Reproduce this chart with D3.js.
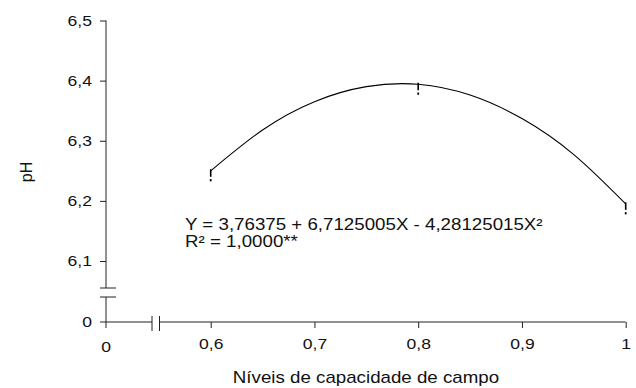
<!DOCTYPE html>
<html>
<head>
<meta charset="utf-8">
<script src="https://cdn.jsdelivr.net/npm/d3@7"></script>
<style>
  body { margin: 0; background: #fff; }
  svg text { font-family: "Liberation Sans", Arial, sans-serif; fill: #111; }
</style>
</head>
<body>
<div id="chart"></div>
<script>
// observed means at each field capacity level
const levels = [0.6, 0.8, 1.0];
const phMeans = [6.25, 6.394, 6.195];

// fitted curve
const curveX = [0.60, 0.65, 0.70, 0.75, 0.80, 0.85, 0.90, 0.95, 1.00];
const curveY = [6.250, 6.318, 6.365, 6.390, 6.394, 6.376, 6.337, 6.277, 6.195];

const xTicks = [0.6, 0.7, 0.8, 0.9, 1.0];
const yTicks = [6.1, 6.2, 6.3, 6.4, 6.5];

const equationText = "Y = 3,76375 + 6,7125005X - 4,28125015X²";
const r2Text = "R² = 1,0000**";

const fmt = d => d3.format(".1f")(d).replace(".", ",").replace(/,0$/, "");

function drawChart() {
    const width = 636, height = 388;
    const sx = 1.17; // glyphs in the source are a bit wide

    const svg = d3.select("#chart")
        .append("svg")
        .attr("width", width)
        .attr("height", height);

    const x = d3.scaleLinear().domain([0.6, 1.0]).range([210.7, 625.7]);
    const y = d3.scaleLinear().domain([6.1, 6.5]).range([261, 20.5]);
    const x0 = 106, y0 = 322;

    const ink = "#222";

    // y axis (upper part)
    const yAxis = svg.append("g")
        .attr("transform", `translate(${x0},0)`)
        .call(d3.axisLeft(y).tickValues(yTicks).tickSize(6).tickPadding(8).tickFormat(fmt));
    yAxis.select(".domain").remove();
    yAxis.selectAll("line").attr("stroke", ink);
    yAxis.selectAll("text")
        .style("font-size", "15px")
        .attr("transform", `scale(${sx},1)`)
        .attr("x", -14 / sx);

    // x axis (right part)
    const xAxis = svg.append("g")
        .attr("transform", `translate(0,${y0})`)
        .call(d3.axisBottom(x).tickValues(xTicks).tickSize(6).tickPadding(10).tickFormat(fmt));
    xAxis.select(".domain").remove();
    xAxis.selectAll("line").attr("stroke", ink);
    xAxis.selectAll("text")
        .style("font-size", "15px")
        .attr("transform", `scale(${sx},1)`);

    // axis lines with breaks
    const lines = [
        [x0, y(6.5), x0, 288],
        [x0, 297, x0, y0],
        [x0, y0, 152, y0],
        [159.5, y0, x(1.0), y0],
        // break marks
        [100, 288, 116, 288],
        [100, 297, 116, 297],
        [152, 316, 152, 331],
        [159.5, 316, 159.5, 331],
        // zero ticks
        [x0 - 6, y0, x0, y0],
        [x0, y0, x0, y0 + 6]
    ];
    svg.selectAll(".axis-line")
        .data(lines)
        .enter().append("line")
        .attr("class", "axis-line")
        .attr("x1", d => d[0]).attr("y1", d => d[1])
        .attr("x2", d => d[2]).attr("y2", d => d[3])
        .attr("stroke", ink)
        .attr("stroke-width", 1);

    // zero labels
    svg.append("text")
        .attr("transform", `translate(${x0 - 14},${y0 + 5}) scale(${sx},1)`)
        .attr("text-anchor", "end")
        .style("font-size", "15px")
        .text("0");
    svg.append("text")
        .attr("transform", `translate(${x0},${y0 + 30}) scale(${sx},1)`)
        .attr("text-anchor", "middle")
        .style("font-size", "15px")
        .text("0");

    // regression curve
    const line = d3.line()
        .x((d, i) => x(curveX[i]))
        .y(d => y(d))
        .curve(d3.curveNatural);
    svg.append("path")
        .datum(curveY)
        .attr("d", line)
        .attr("fill", "none")
        .attr("stroke", "#000")
        .attr("stroke-width", 1.1);

    // "!" markers at observed means
    const marks = svg.selectAll(".mark")
        .data(levels.map((l, i) => ({x: l, v: phMeans[i]})))
        .enter().append("g")
        .attr("class", "mark")
        .attr("transform", d => `translate(${x(d.x)},${y(d.v)})`);
    marks.append("line")
        .attr("y1", -1.5).attr("y2", 6)
        .attr("stroke", "#000")
        .attr("stroke-width", 1.6);
    marks.append("rect")
        .attr("x", -0.9).attr("y", 8.3)
        .attr("width", 1.8).attr("height", 2.2)
        .attr("fill", "#000");

    // equation
    svg.append("text")
        .attr("transform", `translate(185,229.5) scale(${sx},1)`)
        .style("font-size", "16px")
        .text(equationText);
    svg.append("text")
        .attr("transform", `translate(185,247) scale(${sx},1)`)
        .style("font-size", "16px")
        .text(r2Text);

    // axis titles
    svg.append("text")
        .attr("transform", `translate(366,383) scale(${sx},1)`)
        .attr("text-anchor", "middle")
        .style("font-size", "16px")
        .text("Níveis de capacidade de campo");

    svg.append("text")
        .attr("transform", "translate(32,172) rotate(-90)")
        .attr("text-anchor", "middle")
        .style("font-size", "16px")
        .text("pH");
}

drawChart();
</script>
</body>
</html>
